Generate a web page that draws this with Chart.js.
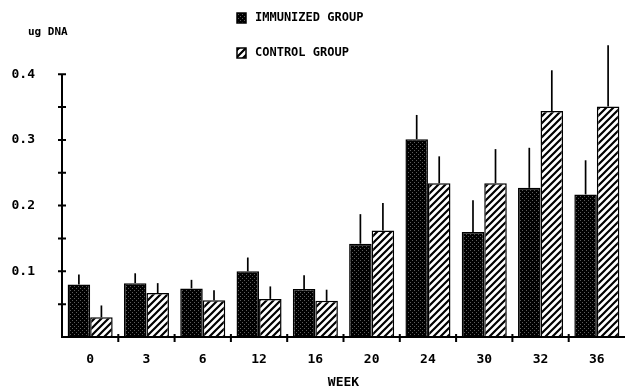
<!DOCTYPE html>
<html lang="en">
<head>
    <meta charset="UTF-8">
    <title>ug DNA por semana</title>
    <script src="https://cdn.jsdelivr.net/npm/chart.js"></script>
    <style>
        body { margin: 0; background: #fff; }
        .grafico { width: 626px; height: 390px; }
    </style>
</head>
<body>
    <div class="grafico">
        <canvas id="myChart"></canvas>
    </div>
<script>
    var semanas = ['0', '3', '6', '12', '16', '20', '24', '30', '32', '36'];
    var imunizado = [0.080, 0.082, 0.074, 0.100, 0.073, 0.142, 0.301, 0.160, 0.227, 0.217];
    var imunizadoErro = [0.015, 0.015, 0.013, 0.021, 0.021, 0.045, 0.037, 0.048, 0.061, 0.052];
    var controle = [0.030, 0.067, 0.056, 0.058, 0.055, 0.162, 0.234, 0.234, 0.344, 0.351];
    var controleErro = [0.018, 0.015, 0.015, 0.019, 0.017, 0.042, 0.041, 0.052, 0.062, 0.093];
    var yLabels = [0.1, 0.2, 0.3, 0.4];

    var fonte = "'DejaVu Sans Mono', monospace";

    // padrao pontilhado escuro
    function padraoPontos() {
        var c = document.createElement('canvas');
        c.width = 4; c.height = 4;
        var ctx = c.getContext('2d');
        ctx.fillStyle = '#000';
        ctx.fillRect(0, 0, 4, 4);
        ctx.fillStyle = '#5c5c5c';
        ctx.fillRect(0, 0, 1, 1);
        ctx.fillRect(2, 2, 1, 1);
        return ctx.createPattern(c, 'repeat');
    }

    // padrao listrado "/"
    function padraoListras() {
        var s = 7;
        var c = document.createElement('canvas');
        c.width = s; c.height = s;
        var ctx = c.getContext('2d');
        ctx.fillStyle = '#fff';
        ctx.fillRect(0, 0, s, s);
        ctx.strokeStyle = '#000';
        ctx.lineWidth = 2.2;
        ctx.beginPath();
        ctx.moveTo(-1, s + 1); ctx.lineTo(s + 1, -1);
        ctx.moveTo(-s / 2 - 1, s / 2 + 1); ctx.lineTo(s / 2 + 1, -s / 2 - 1);
        ctx.moveTo(s / 2 - 1, s * 1.5 + 1); ctx.lineTo(s * 1.5 + 1, s / 2 - 1);
        ctx.stroke();
        return ctx.createPattern(c, 'repeat');
    }

    var pontos = padraoPontos();
    var listras = padraoListras();

    var extras = {
        id: 'extras',
        afterDatasetsDraw: function(chart) {
            var ctx = chart.ctx;
            var y = chart.scales.y;
            var x = chart.scales.x;
            var erros = [imunizadoErro, controleErro];
            ctx.save();
            ctx.strokeStyle = '#000';
            ctx.lineWidth = 1.7;
            chart.data.datasets.forEach(function(ds, i) {
                chart.getDatasetMeta(i).data.forEach(function(bar, j) {
                    ctx.beginPath();
                    ctx.moveTo(bar.x, y.getPixelForValue(ds.data[j]));
                    ctx.lineTo(bar.x, y.getPixelForValue(ds.data[j] + erros[i][j]));
                    ctx.stroke();
                });
            });

            // eixos
            var x0 = x.left, y0 = y.getPixelForValue(0);
            ctx.lineWidth = 2;
            ctx.beginPath();
            ctx.moveTo(x0, y.getPixelForValue(0.4));
            ctx.lineTo(x0, y0);
            ctx.lineTo(x.right, y0);
            for (var v = 0.05; v <= 0.401; v += 0.05) {
                var py = y.getPixelForValue(v);
                ctx.moveTo(x0 - 4, py);
                ctx.lineTo(x0 + 4, py);
            }
            var passo = (x.right - x.left) / semanas.length;
            for (var k = 1; k < semanas.length; k++) {
                var px = x.left + passo * k;
                ctx.moveTo(px, y0 - 3);
                ctx.lineTo(px, y0 + 5);
            }
            ctx.stroke();

            // titulo do eixo y
            ctx.fillStyle = '#000';
            ctx.font = 'bold 11px ' + fonte;
            ctx.textBaseline = 'middle';
            ctx.textAlign = 'left';
            ctx.fillText('ug DNA', 28, 32);

            // legenda
            var itens = [
                { txt: 'IMMUNIZED GROUP', fill: pontos, y: 18 },
                { txt: 'CONTROL GROUP', fill: listras, y: 53 }
            ];
            ctx.font = 'bold 12px ' + fonte;
            itens.forEach(function(it) {
                ctx.fillStyle = it.fill;
                ctx.fillRect(237, it.y - 5, 9, 10);
                ctx.lineWidth = 1.5;
                ctx.strokeRect(237, it.y - 5, 9, 10);
                ctx.fillStyle = '#000';
                ctx.fillText(it.txt, 255, it.y);
            });
            ctx.restore();
        }
    };

    const data = {
        labels: semanas,
        datasets: [{
            label: 'IMMUNIZED GROUP',
            backgroundColor: pontos,
            borderColor: '#000',
            borderWidth: 1.5,
            data: imunizado
        }, {
            label: 'CONTROL GROUP',
            backgroundColor: listras,
            borderColor: '#000',
            borderWidth: 1.5,
            data: controle
        }]
    };

    var options = {
        responsive: true,
        maintainAspectRatio: false,
        animation: false,
        layout: { padding: { top: 27, right: 1, left: 0, bottom: 0 } },
        plugins: {
            legend: { display: false },
            tooltip: { enabled: false }
        },
        datasets: {
            bar: { categoryPercentage: 0.8, barPercentage: 1.0 }
        },
        scales: {
            y: {
                min: 0,
                max: 0.46,
                afterFit: function(s) { s.width = 62; },
                afterBuildTicks: function(s) {
                    s.ticks = yLabels.map(function(v) { return { value: v }; });
                },
                grid: { display: false, drawTicks: false },
                border: { display: false },
                ticks: {
                    color: '#000',
                    padding: 27,
                    font: { family: fonte, size: 13, weight: 'bold' },
                    callback: function(v) { return Number(v).toFixed(1); }
                }
            },
            x: {
                afterFit: function(s) { s.height = 53; },
                grid: { display: false, drawTicks: false },
                border: { display: false },
                ticks: {
                    color: '#000',
                    padding: 15,
                    font: { family: fonte, size: 13, weight: 'bold' }
                },
                title: {
                    display: true,
                    text: 'WEEK',
                    color: '#000',
                    padding: { top: 0, bottom: 0 },
                    font: { family: fonte, size: 13, weight: 'bold' }
                }
            }
        }
    };

    const config = {
        type: 'bar',
        data: data,
        options: options,
        plugins: [extras]
    };
    const myChart = new Chart(document.getElementById('myChart'), config);
</script>
</body>
</html>
